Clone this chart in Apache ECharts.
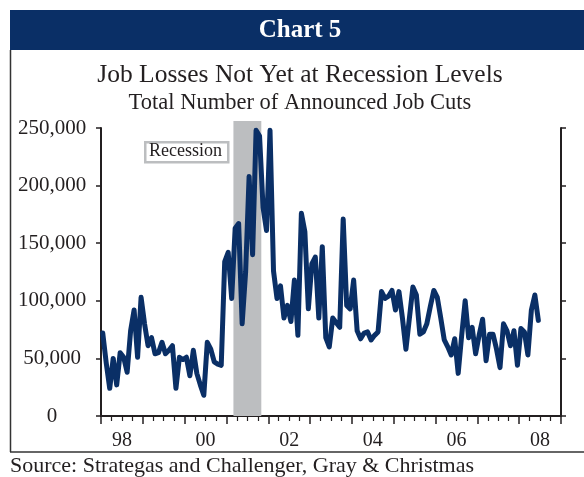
<!DOCTYPE html>
<html>
<head>
<meta charset="utf-8">
<script src="https://cdn.jsdelivr.net/npm/echarts@6/dist/echarts.min.js"></script>
<style>
  html, body { margin: 0; padding: 0; background: #fff; }
  #chart { width: 584px; height: 477px; }
</style>
</head>
<body>
<div id="chart"></div>
<script>
// ---- Data (monthly announced job cuts, Jan 1998 .. Jun 2008) ----
var startYear = 1998;
var jobCuts = [
  72000, 46000, 24000, 50000, 27000, 55000, 51000, 38000, 74000, 92000, 51000, 103000,
  80000, 61000, 68000, 54000, 55000, 64000, 54000, 57000, 61000, 24000, 51000, 49000,
  51000, 35000, 57000, 37000, 27000, 18000, 64000, 58000, 47000, 45000, 44000, 134000,
  142000, 102000, 163000, 167000, 80000, 125000, 208000, 140000, 248000, 243000, 181000, 161000,
  248000, 126000, 102000, 113000, 85000, 96000, 82000, 118000, 70000, 176000, 160000, 93000,
  132000, 138000, 85000, 147000, 68000, 60000, 85000, 81000, 77000, 171000, 96000, 93000,
  118000, 74000, 67000, 72000, 73000, 66000, 70000, 73000, 108000, 102000, 104000, 109000,
  92000, 108000, 85000, 58000, 85000, 112000, 105000, 71000, 73000, 80000, 95000, 109000,
  103000, 85000, 66000, 60000, 53000, 67000, 37000, 70000, 100000, 68000, 77000, 54000,
  70000, 84000, 48000, 71000, 71000, 58000, 42000, 80000, 74000, 61000, 74000, 44000,
  76000, 73000, 53000, 92000, 105000, 83000
];
var yearLabels = ['98', '99', '00', '01', '02', '03', '04', '05', '06', '07', '08'];
var yTicks = [0, 50000, 100000, 150000, 200000, 250000];
var recessionStart = 2001 + 2 / 12;   // Mar 2001
var recessionEnd = 2001 + 10 / 12;    // Nov 2001
var titleText = 'Job Losses Not Yet at Recession Levels';
var subtitleText = 'Total Number of Announced Job Cuts';
var bannerText = 'Chart 5';
var sourceText = 'Source: Strategas and Challenger, Gray & Christmas';
var recessionLabel = 'Recession';

// ---- Build ----
var seriesData = jobCuts.map(function (v, i) { return [startYear + (i + 0.5) / 12, v]; });
var FONT = '"Liberation Serif", "DejaVu Serif", serif';
var NAVY = '#0a2f66';
var INK = '#231f20';
var xMin = startYear, xMax = startYear + yearLabels.length;

var chart = echarts.init(document.getElementById('chart'), null, { renderer: 'canvas' });
var yMin = yTicks[0], yMax = yTicks[yTicks.length - 1], yStep = yTicks[1] - yTicks[0];

var option = {
  backgroundColor: '#ffffff',
  animation: false,
  grid: [
    { left: 101, right: 23, top: 128, bottom: 61, containLabel: false },
    { left: 101, right: 23, top: 121, bottom: 61, containLabel: false }
  ],
  xAxis: [
    {
      type: 'value', min: xMin, max: xMax, interval: 1, gridIndex: 0,
      position: 'bottom',
      axisLine: { show: true, onZero: false, lineStyle: { color: INK, width: 2 } },
      axisTick: { show: true, inside: false, length: 8, lineStyle: { color: INK, width: 1.5 } },
      minorTick: { show: true, splitNumber: 4, length: 5, lineStyle: { color: INK, width: 1.2 } },
      axisLabel: { show: false },
      splitLine: { show: false }, minorSplitLine: { show: false }
    },
    {
      type: 'category', data: yearLabels, boundaryGap: true, position: 'bottom', gridIndex: 0,
      axisLine: { show: false, onZero: false }, axisTick: { show: false },
      axisLabel: {
        interval: 0, margin: 15, fontSize: 20, fontFamily: FONT, color: INK,
        formatter: function (v, idx) { return idx % 2 === 0 ? v : ''; }
      },
      splitLine: { show: false }
    },
    {
      type: 'value', min: xMin, max: xMax, gridIndex: 1, show: false
    }
  ],
  yAxis: [
    {
      type: 'value', min: yMin, max: yMax, interval: yStep, position: 'left', gridIndex: 0,
      axisLine: { show: true, onZero: false, lineStyle: { color: INK, width: 2 } },
      axisTick: { show: true, inside: false, length: 5, lineStyle: { color: INK, width: 1.5 } },
      axisLabel: {
        margin: 49, align: 'center', fontSize: 21, fontFamily: FONT, color: INK,
        formatter: function (v) { return v.toLocaleString('en-US'); }
      },
      splitLine: { show: false }
    },
    {
      type: 'value', min: yMin, max: yMax, interval: yStep, position: 'right', gridIndex: 0,
      axisLine: { show: true, onZero: false, lineStyle: { color: INK, width: 2 } },
      axisTick: { show: true, inside: false, length: 5, lineStyle: { color: INK, width: 1.5 } },
      axisLabel: { show: false },
      splitLine: { show: false }
    },
    {
      type: 'value', min: 0, max: 1, gridIndex: 1, show: false
    }
  ],
  series: [
    {
      type: 'line', xAxisIndex: 2, yAxisIndex: 2, data: [[recessionStart, 0]],
      showSymbol: false, symbol: 'none', silent: true,
      lineStyle: { opacity: 0 },
      markArea: {
        silent: true,
        itemStyle: { color: '#bcbec0' },
        data: [[{ xAxis: recessionStart }, { xAxis: recessionEnd }]]
      },
      z: 1
    },
    {
      type: 'line', xAxisIndex: 0, yAxisIndex: 0, data: seriesData,
      showSymbol: false, symbol: 'none', clip: false,
      lineStyle: { color: NAVY, width: 5, join: 'round', cap: 'round' },
      z: 3
    }
  ],
  graphic: [
    { type: 'rect', left: 10, top: 10, shape: { width: 574, height: 40 }, style: { fill: NAVY } },
    { type: 'text', x: 300, y: 31, style: { text: bannerText, fill: '#ffffff', font: 'bold 25px ' + FONT, textAlign: 'center', textVerticalAlign: 'middle' } },
    { type: 'line', shape: { x1: 10.5, y1: 50, x2: 10.5, y2: 452 }, style: { stroke: '#333', lineWidth: 1.5 } },
    { type: 'line', shape: { x1: 10, y1: 452, x2: 584, y2: 452 }, style: { stroke: '#333', lineWidth: 1.5 } },
    { type: 'text', x: 300, y: 75, style: { text: titleText, fill: INK, font: '25.5px ' + FONT, textAlign: 'center', textVerticalAlign: 'middle' } },
    { type: 'text', x: 300, y: 103, style: { text: subtitleText, fill: INK, font: '22.5px ' + FONT, textAlign: 'center', textVerticalAlign: 'middle' } },
    { type: 'text', x: 10, y: 466, style: { text: sourceText, fill: INK, font: '22px ' + FONT, textAlign: 'left', textVerticalAlign: 'middle' } },
    { type: 'rect', left: 144, top: 141, shape: { width: 83, height: 20 }, style: { fill: '#fff', stroke: '#bcbec0', lineWidth: 2.5 }, z: 10 },
    { type: 'text', x: 185.5, y: 151.5, style: { text: recessionLabel, fill: INK, font: '18px ' + FONT, textAlign: 'center', textVerticalAlign: 'middle' }, z: 11 }
  ]
};
chart.setOption(option);
</script>
</body>
</html>
